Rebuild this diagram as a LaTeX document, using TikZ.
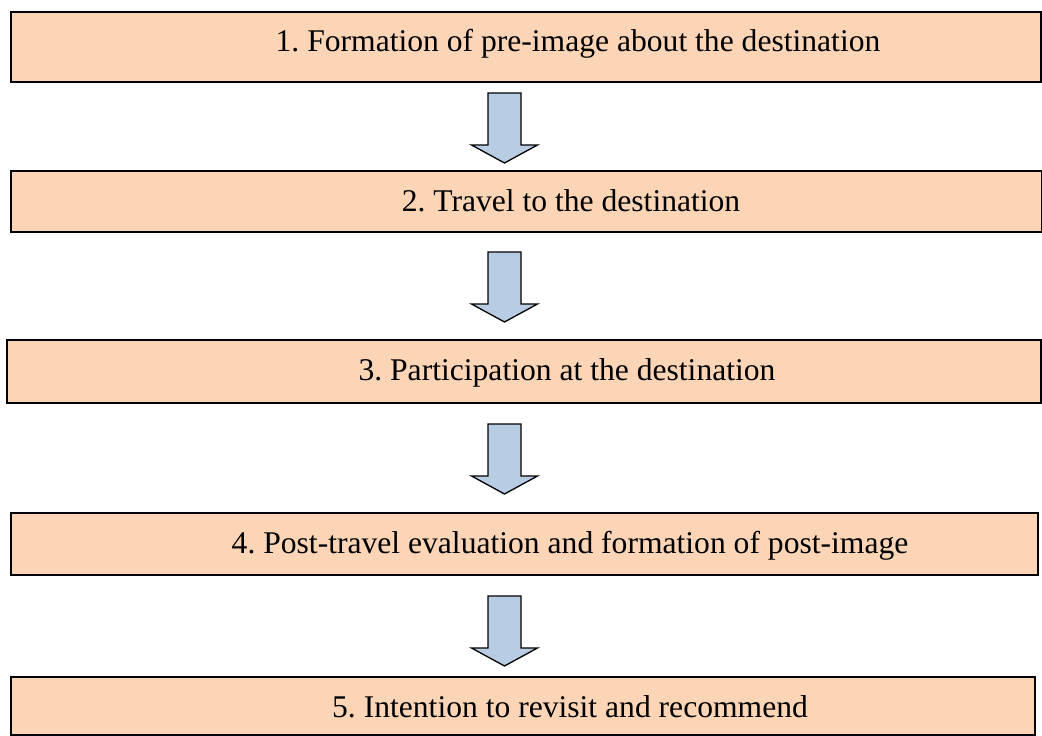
\documentclass[tikz,border=0pt]{standalone}
\usepackage{fontspec}
\setmainfont{Liberation Serif}
\usepackage{tikz}
\usetikzlibrary{calc}
\definecolor{peach}{RGB}{251,213,181}
\definecolor{paleblue}{RGB}{184,204,228}
\frenchspacing

\begin{document}
\begin{tikzpicture}[x=1pt,y=-1pt,
    stagebox/.style={draw=black,fill=peach,line width=1.4pt,inner sep=0pt,outer sep=0pt},
    stagetext/.style={anchor=base,inner sep=0pt,font=\fontsize{31.6}{38}\selectfont},
    blockarrow/.style={draw=black,fill=paleblue,line width=1.3pt,line join=miter}]
        \useasboundingbox (0,0) rectangle (1042,736);
        \node[stagebox,minimum width=1030,minimum height=70](b1)at(526,47){};
        \node[stagebox,minimum width=1031,minimum height=61](b2)at(526.5,201.5){};
        \node[stagebox,minimum width=1034,minimum height=63](b3)at(524,371.5){};
        \node[stagebox,minimum width=1027,minimum height=62](b4)at(524.5,544){};
        \node[stagebox,minimum width=1024,minimum height=58](b5)at(523,706){};
        \node[stagetext](t1)at(578,51){1. Formation of pre-image about the destination};
        \node[stagetext](t2)at(571,211){2. Travel to the destination};
        \node[stagetext](t3)at(567,380){3. Participation at the destination};
        \node[stagetext](t4)at(570,553){4. Post-travel evaluation and formation of post-image};
        \node[stagetext](t5)at(570,717){5. Intention to revisit and recommend};
        \foreach \i/\gap in {1/11,2/20,3/21,4/21}{
          \path(b\i.south)++(0,\gap)coordinate(g\i);
          \coordinate(s\i)at(504.5,0 |- g\i);
          \draw[blockarrow](s\i)++(-16.5,0)--++(33,0)--++(0,52)--++(16.5,0)
            --++(-33,18)--++(-33,-18)--++(16.5,0)--cycle;
        }
      \end{tikzpicture}
\end{document}
